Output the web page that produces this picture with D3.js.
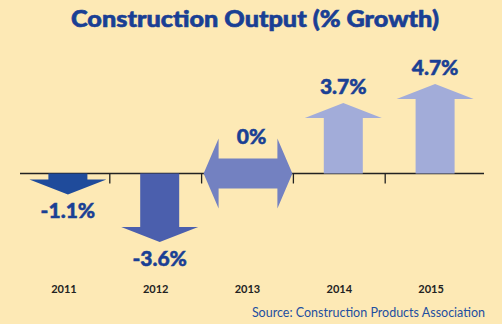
<!DOCTYPE html>
<html>
<head>
  <meta charset="utf-8">
  <title>construction output</title>
  <style>
    body { margin: 0; background: #fde9b5; }
    svg { display: block; font-family: Lato, "Open Sans", sans-serif; }
    .title { font-size: 22px; font-weight: 900; fill: #1a3f94; text-anchor: middle; }
    .pct { font-size: 21px; font-weight: 900; fill: #1a3f94; text-anchor: middle; stroke: #1a3f94; stroke-width: 0.5; }
    .year { font-size: 11px; font-weight: bold; fill: #222; text-anchor: middle; }
    .source { font-size: 12.5px; fill: #1e4fa0; text-anchor: end; }
  </style>
  <script src="https://d3js.org/d3.v7.min.js"></script>
</head>
<body>
  <script>
    var years = ['2011', '2012', '2013', '2014', '2015'];
    var growth = [-1.1, -3.6, 0, 3.7, 4.7];
    var labels = ['-1.1%', '-3.6%', '0%', '3.7%', '4.7%'];
    var colours = ['#1f4b9b', '#4b5fad', '#7381c1', '#a2acd9', '#a2acd9'];

    var width = 502, height = 324;
    var svg = d3.select('body').append('svg')
      .attr('width', width)
      .attr('height', height);

    svg.append('rect').attr('width', width).attr('height', height).attr('fill', '#fde9b5');

    var x = d3.scaleBand().domain(years).range([18, 477]);
    var y = d3.scaleLinear().domain([0, 4.7]).range([173.5, 84]);

    var shaftW = 39, headW = 77, headL = 15, shift = 4;

    // arrow path for one year (centre cx, from axis to value)
    function arrow(d, i) {
      var cx = x(years[i]) + x.bandwidth() / 2 + shift;
      var y0 = y(0), y1 = y(d);
      if (d === 0) {
        // horizontal double arrow
        var l = x(years[i]) + 2, r = x(years[i]) + x.bandwidth() - 1;
        return 'M' + l + ',' + y0 +
          'L' + (l + 15) + ',' + (y0 - 35) + 'L' + (l + 15) + ',' + (y0 - 15) +
          'L' + (r - 15) + ',' + (y0 - 15) + 'L' + (r - 15) + ',' + (y0 - 35) +
          'L' + r + ',' + y0 +
          'L' + (r - 15) + ',' + (y0 + 35) + 'L' + (r - 15) + ',' + (y0 + 15) +
          'L' + (l + 15) + ',' + (y0 + 15) + 'L' + (l + 15) + ',' + (y0 + 35) + 'Z';
      }
      var s = d > 0 ? 1 : -1;
      var yb = y1 + s * headL;
      return 'M' + (cx - shaftW / 2) + ',' + y0 +
        'L' + (cx - shaftW / 2) + ',' + yb +
        'L' + (cx - headW / 2) + ',' + yb +
        'L' + cx + ',' + y1 +
        'L' + (cx + headW / 2) + ',' + yb +
        'L' + (cx + shaftW / 2) + ',' + yb +
        'L' + (cx + shaftW / 2) + ',' + y0 + 'Z';
    }

    // axis line + ticks between categories
    svg.append('line')
      .attr('x1', 20).attr('x2', 484)
      .attr('y1', y(0)).attr('y2', y(0))
      .attr('stroke', '#222').attr('stroke-width', 1.3);

    svg.selectAll('.tick')
      .data(years.slice(1))
      .enter().append('line')
      .attr('x1', d => x(d)).attr('x2', d => x(d))
      .attr('y1', y(0)).attr('y2', y(0) + 10)
      .attr('stroke', '#222').attr('stroke-width', 1.3);

    svg.selectAll('.arrow')
      .data(growth)
      .enter().append('path')
      .attr('d', arrow)
      .attr('fill', (d, i) => colours[i]);

    // value labels
    svg.selectAll('.pct')
      .data(growth)
      .enter().append('text')
      .attr('class', 'pct')
      .attr('x', (d, i) => x(years[i]) + x.bandwidth() / 2 + shift)
      .attr('y', d => d < 0 ? y(d) + 24 : (d === 0 ? y(0) - 30 : y(d) - 9))
      .text((d, i) => labels[i]);

    svg.selectAll('.year')
      .data(years)
      .enter().append('text')
      .attr('class', 'year')
      .attr('x', d => x(d) + x.bandwidth() / 2)
      .attr('y', 293)
      .text(d => d);

    svg.append('text')
      .attr('class', 'title')
      .attr('x', 255).attr('y', 27)
      .attr('textLength', 368)
      .attr('lengthAdjust', 'spacingAndGlyphs')
      .style('stroke', '#1a3f94').style('stroke-width', 0.6)
      .text('Construction Output (% Growth)');

    svg.append('text')
      .attr('class', 'source')
      .attr('x', 485).attr('y', 317)
      .text('Source: Construction Products Association');
  </script>
</body>
</html>
